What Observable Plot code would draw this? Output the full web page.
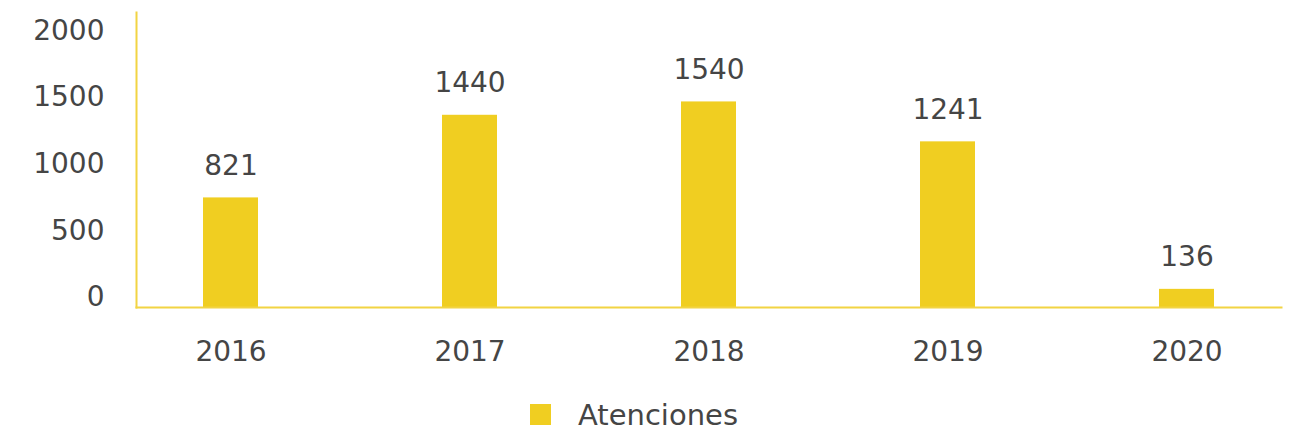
<!DOCTYPE html>
<html>
<head>
<meta charset="utf-8">
<script src="https://cdn.jsdelivr.net/npm/d3@7"></script>
<script src="https://cdn.jsdelivr.net/npm/@observablehq/plot@0.6"></script>
<style>
  html, body { margin: 0; padding: 0; background: #fff; }
  body { width: 1292px; height: 431px; overflow: hidden; font-family: "DejaVu Sans", sans-serif; color: #454545; }
  #legend { position: relative; height: 46px; }
  #legend .sw { position: absolute; left: 530px; top: 19px; width: 21px; height: 21px; background: #F0CE21; }
  #legend .lb { position: absolute; left: 578px; top: 11px; font-size: 29px; line-height: 38px; color: #454545; }
</style>
</head>
<body>
<div id="chart"></div>
<div id="legend"><span class="sw"></span><span class="lb">Atenciones</span></div>
<script>
const years = ["2016", "2017", "2018", "2019", "2020"];
const atenciones = [821, 1440, 1540, 1241, 136];
const yTicks = [0, 500, 1000, 1500, 2000];
const seriesName = "Atenciones";

const data = years.map((y, i) => ({year: y, value: atenciones[i]}));

const barColor = "#F0CE21";
const axisColor = "#F2D443";
const textColor = "#454545";

const chart = Plot.plot({
  width: 1292,
  height: 385,
  marginLeft: 136,
  marginRight: 11,
  marginTop: 12,
  marginBottom: 78,
  style: {fontFamily: "'DejaVu Sans', sans-serif", fontSize: "28px", color: textColor, background: "transparent"},
  x: {domain: years, paddingInner: 0.77, paddingOuter: 0.275, label: null},
  y: {domain: [0, 2210], label: null},
  marks: [
    Plot.barY(data, {x: "year", y: "value", fill: barColor}),
    Plot.frame({anchor: "left", stroke: axisColor, strokeWidth: 2}),
    Plot.frame({anchor: "bottom", stroke: axisColor, strokeWidth: 2}),
    Plot.axisY({ticks: yTicks, tickFormat: d => String(d), tickSize: 0, tickPadding: 32, dy: -10, fill: textColor, fontSize: 28, label: null}),
    Plot.axisX({tickSize: 0, tickPadding: 45, lineAnchor: "middle", fill: textColor, fontSize: 28, label: null}),
    Plot.text(data, {x: "year", y: "value", text: d => String(d.value), dy: -32, lineAnchor: "middle", fill: textColor, fontSize: 28})
  ]
});
document.getElementById("chart").appendChild(chart);
</script>
</body>
</html>
